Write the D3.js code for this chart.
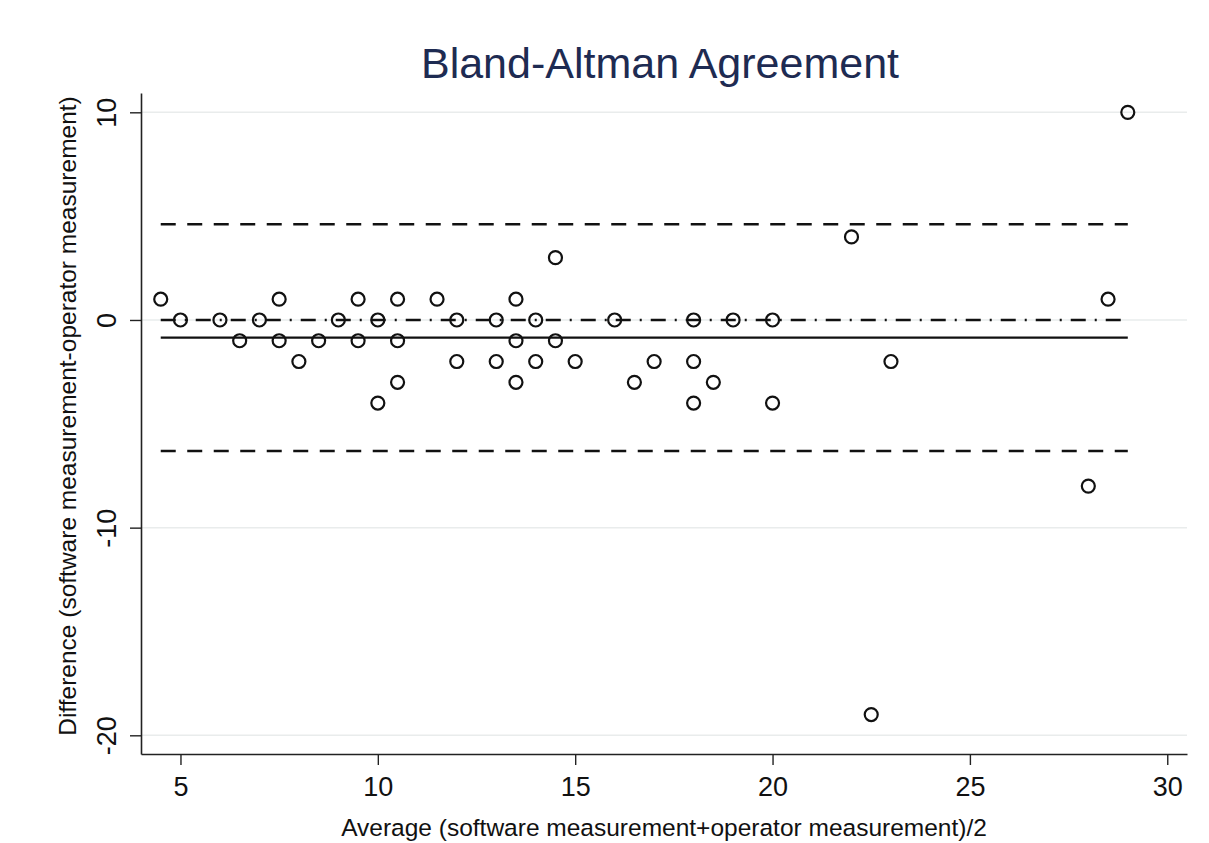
<!DOCTYPE html>
<html>
<head>
<meta charset="utf-8">
<script src="https://cdn.jsdelivr.net/npm/d3@7"></script>
<style>
  html, body { margin: 0; padding: 0; background: #fff; }
  svg { display: block; }
  text { font-family: "Liberation Sans", Arial, Helvetica, sans-serif; }
</style>
</head>
<body>
<svg id="chart" width="1209" height="843"></svg>
<script>
// ---- data ----
const avgValues = [4.5, 5, 6, 6.5, 7, 7.5, 7.5, 8, 8.5, 9, 9.5, 9.5, 10, 10, 10.5, 10.5, 10.5,
  11.5, 12, 12, 13, 13, 13.5, 13.5, 13.5, 14, 14, 14.5, 14.5, 15, 16, 16.5, 17, 18, 18, 18,
  18.5, 19, 20, 20, 22, 22.5, 23, 28, 28.5, 29];
const diffValues = [1, 0, 0, -1, 0, 1, -1, -2, -1, 0, 1, -1, 0, -4, 1, -1, -3,
  1, 0, -2, 0, -2, 1, -1, -3, 0, -2, 3, -1, -2, 0, -3, -2, 0, -2, -4,
  -3, 0, 0, -4, 4, -19, -2, -8, 1, 10];
const meanDiff = -0.85;
const upperLoA = 4.61;
const lowerLoA = -6.31;
const xTicks = [5, 10, 15, 20, 25, 30];
const yTicks = [-20, -10, 0, 10];
const titleText = "Bland-Altman Agreement";
const xTitle = "Average (software measurement+operator measurement)/2";
const yTitle = "Difference (software measurement-operator measurement)";

// ---- layout ----
const svg = d3.select("#chart");
const x = d3.scaleLinear().domain([4.0, 30.5]).range([141, 1187]);
const y = d3.scaleLinear().domain([-20.9, 10.93]).range([754, 93]);

const points = avgValues.map((a, i) => ({ a, d: diffValues[i] }));
const xMin = d3.min(avgValues), xMax = d3.max(avgValues);
const fmt = d => String(d);

// gridlines
svg.append("g").selectAll("line").data(yTicks).join("line")
  .attr("x1", x.range()[0]).attr("x2", x.range()[1])
  .attr("y1", d => y(d)).attr("y2", d => y(d))
  .attr("stroke", "#e9ecec").attr("stroke-width", 1.5);

// axes
const xAxis = d3.axisBottom(x).tickValues(xTicks).tickFormat(fmt)
  .tickSize(11).tickPadding(12).tickSizeOuter(0);
const gx = svg.append("g").attr("transform", `translate(0,${y.range()[0]})`).call(xAxis);
gx.select(".domain").attr("stroke", "#222").attr("stroke-width", 1.6);
gx.selectAll(".tick line").attr("stroke", "#222").attr("stroke-width", 1.4);
gx.selectAll(".tick text").style("font-size", "27px").attr("fill", "#111")
  .style("font-family", "Liberation Sans, Arial, sans-serif");

const yAxis = d3.axisLeft(y).tickValues(yTicks).tickFormat(fmt).tickSize(11).tickSizeOuter(0);
const gy = svg.append("g").attr("transform", `translate(${x.range()[0]},0)`).call(yAxis);
gy.select(".domain").attr("stroke", "#222").attr("stroke-width", 1.6);
gy.selectAll(".tick line").attr("stroke", "#222").attr("stroke-width", 1.4);
gy.selectAll(".tick text").style("font-size", "27px").attr("fill", "#111")
  .style("font-family", "Liberation Sans, Arial, sans-serif")
  .attr("text-anchor", "middle").attr("x", null).attr("dy", null)
  .attr("transform", "translate(-34,0) rotate(-90)")
  .attr("dominant-baseline", "central");

// reference lines
const lines = svg.append("g");
function hline(val, dash) {
  lines.append("line")
    .attr("x1", x(xMin)).attr("x2", x(xMax))
    .attr("y1", y(val)).attr("y2", y(val))
    .attr("stroke", "#111").attr("stroke-width", 2.4)
    .attr("stroke-dasharray", dash);
}
hline(upperLoA, "15,11.5");
hline(lowerLoA, "15,11.5");
hline(meanDiff, null);
hline(0, "15,9,2,9");

// points
svg.append("g").selectAll("circle").data(points).join("circle")
  .attr("cx", d => x(d.a)).attr("cy", d => y(d.d)).attr("r", 6.5)
  .attr("fill", "none").attr("stroke", "#111").attr("stroke-width", 2.2);

// titles
svg.append("text").attr("x", 660).attr("y", 78).attr("text-anchor", "middle")
  .style("font-size", "43px").attr("fill", "#1e2b52").text(titleText);
svg.append("text").attr("x", 664).attr("y", 836).attr("text-anchor", "middle")
  .style("font-size", "24.5px").attr("fill", "#111").text(xTitle);
svg.append("text").attr("transform", `translate(76,416) rotate(-90)`)
  .attr("text-anchor", "middle")
  .style("font-size", "24.5px").attr("fill", "#111").text(yTitle);
</script>
</body>
</html>
